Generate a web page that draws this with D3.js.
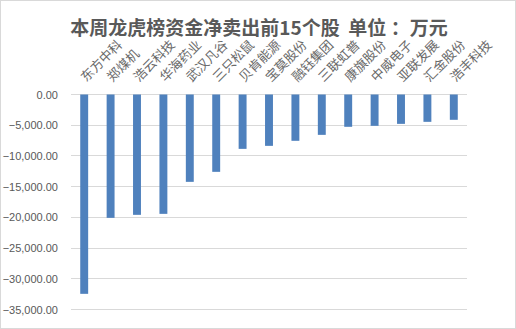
<!DOCTYPE html>
<html>
<head>
<meta charset="utf-8">
<script src="https://cdn.jsdelivr.net/npm/d3@7"></script>
<style>
  body { margin: 0; background: #fff; }
</style>
</head>
<body>
<div id="chart"></div>
<script>
// 数据
const stocks = ["东方中科", "郑煤机", "浩云科技", "华海药业", "武汉凡谷", "三只松鼠", "贝肯能源", "宝莫股份",
    "融钰集团", "三联虹普", "康旗股份", "中威电子", "亚联发展", "汇金股份", "浩丰科技"];
const netSell = [-32450, -20080, -19590, -19430, -14220, -12590, -8850, -8360,
    -7540, -6570, -5260, -5100, -4780, -4450, -4120];
const yTicks = [0, -5000, -10000, -15000, -20000, -25000, -30000, -35000];

const W = 516, H = 329;
const margin = { top: 94.5, right: 49, bottom: 19.5, left: 71 };
const width = W - margin.left - margin.right;
const height = H - margin.top - margin.bottom;

const root = d3.select("#chart")
    .append("svg")
    .attr("width", W)
    .attr("height", H);

// 外框
root.append("rect")
    .attr("x", 0.5).attr("y", 0.5)
    .attr("width", W - 1).attr("height", H - 1)
    .attr("fill", "#fff")
    .attr("stroke", "#d9d9d9");

// 标题
root.append("text")
    .attr("x", 259)
    .attr("y", 35)
    .attr("text-anchor", "middle")
    .attr("font-family", "'Noto Sans CJK SC', sans-serif")
    .attr("font-size", "19px")
    .attr("font-weight", "bold")
    .attr("fill", "#595959")
    .style("white-space", "pre")
    .text("本周龙虎榜资金净卖出前15个股  单位 ：万元");

const svg = root.append("g")
    .attr("transform", `translate(${margin.left},${margin.top})`);

const x = d3.scaleBand()
    .domain(stocks)
    .range([0, width])
    .paddingInner(0.7)
    .paddingOuter(0.35);

const y = d3.scaleLinear()
    .domain([0, -35000])
    .range([0, height]);

// 网格线
svg.append("g")
    .selectAll("line")
    .data(yTicks)
    .enter()
    .append("line")
    .attr("x1", 0)
    .attr("x2", width)
    .attr("y1", d => Math.round(y(d)) + 0.5 - (margin.top % 1))
    .attr("y2", d => Math.round(y(d)) + 0.5 - (margin.top % 1))
    .attr("stroke", "#d9d9d9")
    .attr("stroke-width", 1);

// Y 轴
const yAxis = svg.append("g")
    .attr("transform", "translate(-10,0)")
    .call(d3.axisLeft(y).tickValues(yTicks).tickSize(0).tickFormat(d3.format(",.2f")));
yAxis.select(".domain").remove();
yAxis.selectAll("text")
    .attr("font-family", "'Liberation Sans', Arial, sans-serif")
    .attr("font-size", "11px")
    .attr("fill", "#595959");

// 柱子
svg.selectAll(".bar")
    .data(netSell)
    .enter()
    .append("rect")
    .attr("class", "bar")
    .attr("x", (d, i) => x(stocks[i]))
    .attr("y", 0)
    .attr("width", x.bandwidth())
    .attr("height", d => y(d))
    .attr("fill", "#4f81bd");

// 类别标签（顶部，旋转 -45°）
svg.append("g")
    .selectAll("text")
    .data(stocks)
    .enter()
    .append("text")
    .attr("transform", d => `translate(${x(d) + x.bandwidth() / 2 + 2},-12) rotate(-45)`)
    .attr("text-anchor", "start")
    .attr("font-family", "'Noto Sans CJK SC', sans-serif")
    .attr("font-size", "13px")
    .attr("fill", "#6a6a6a")
    .text(d => d);
</script>
</body>
</html>
